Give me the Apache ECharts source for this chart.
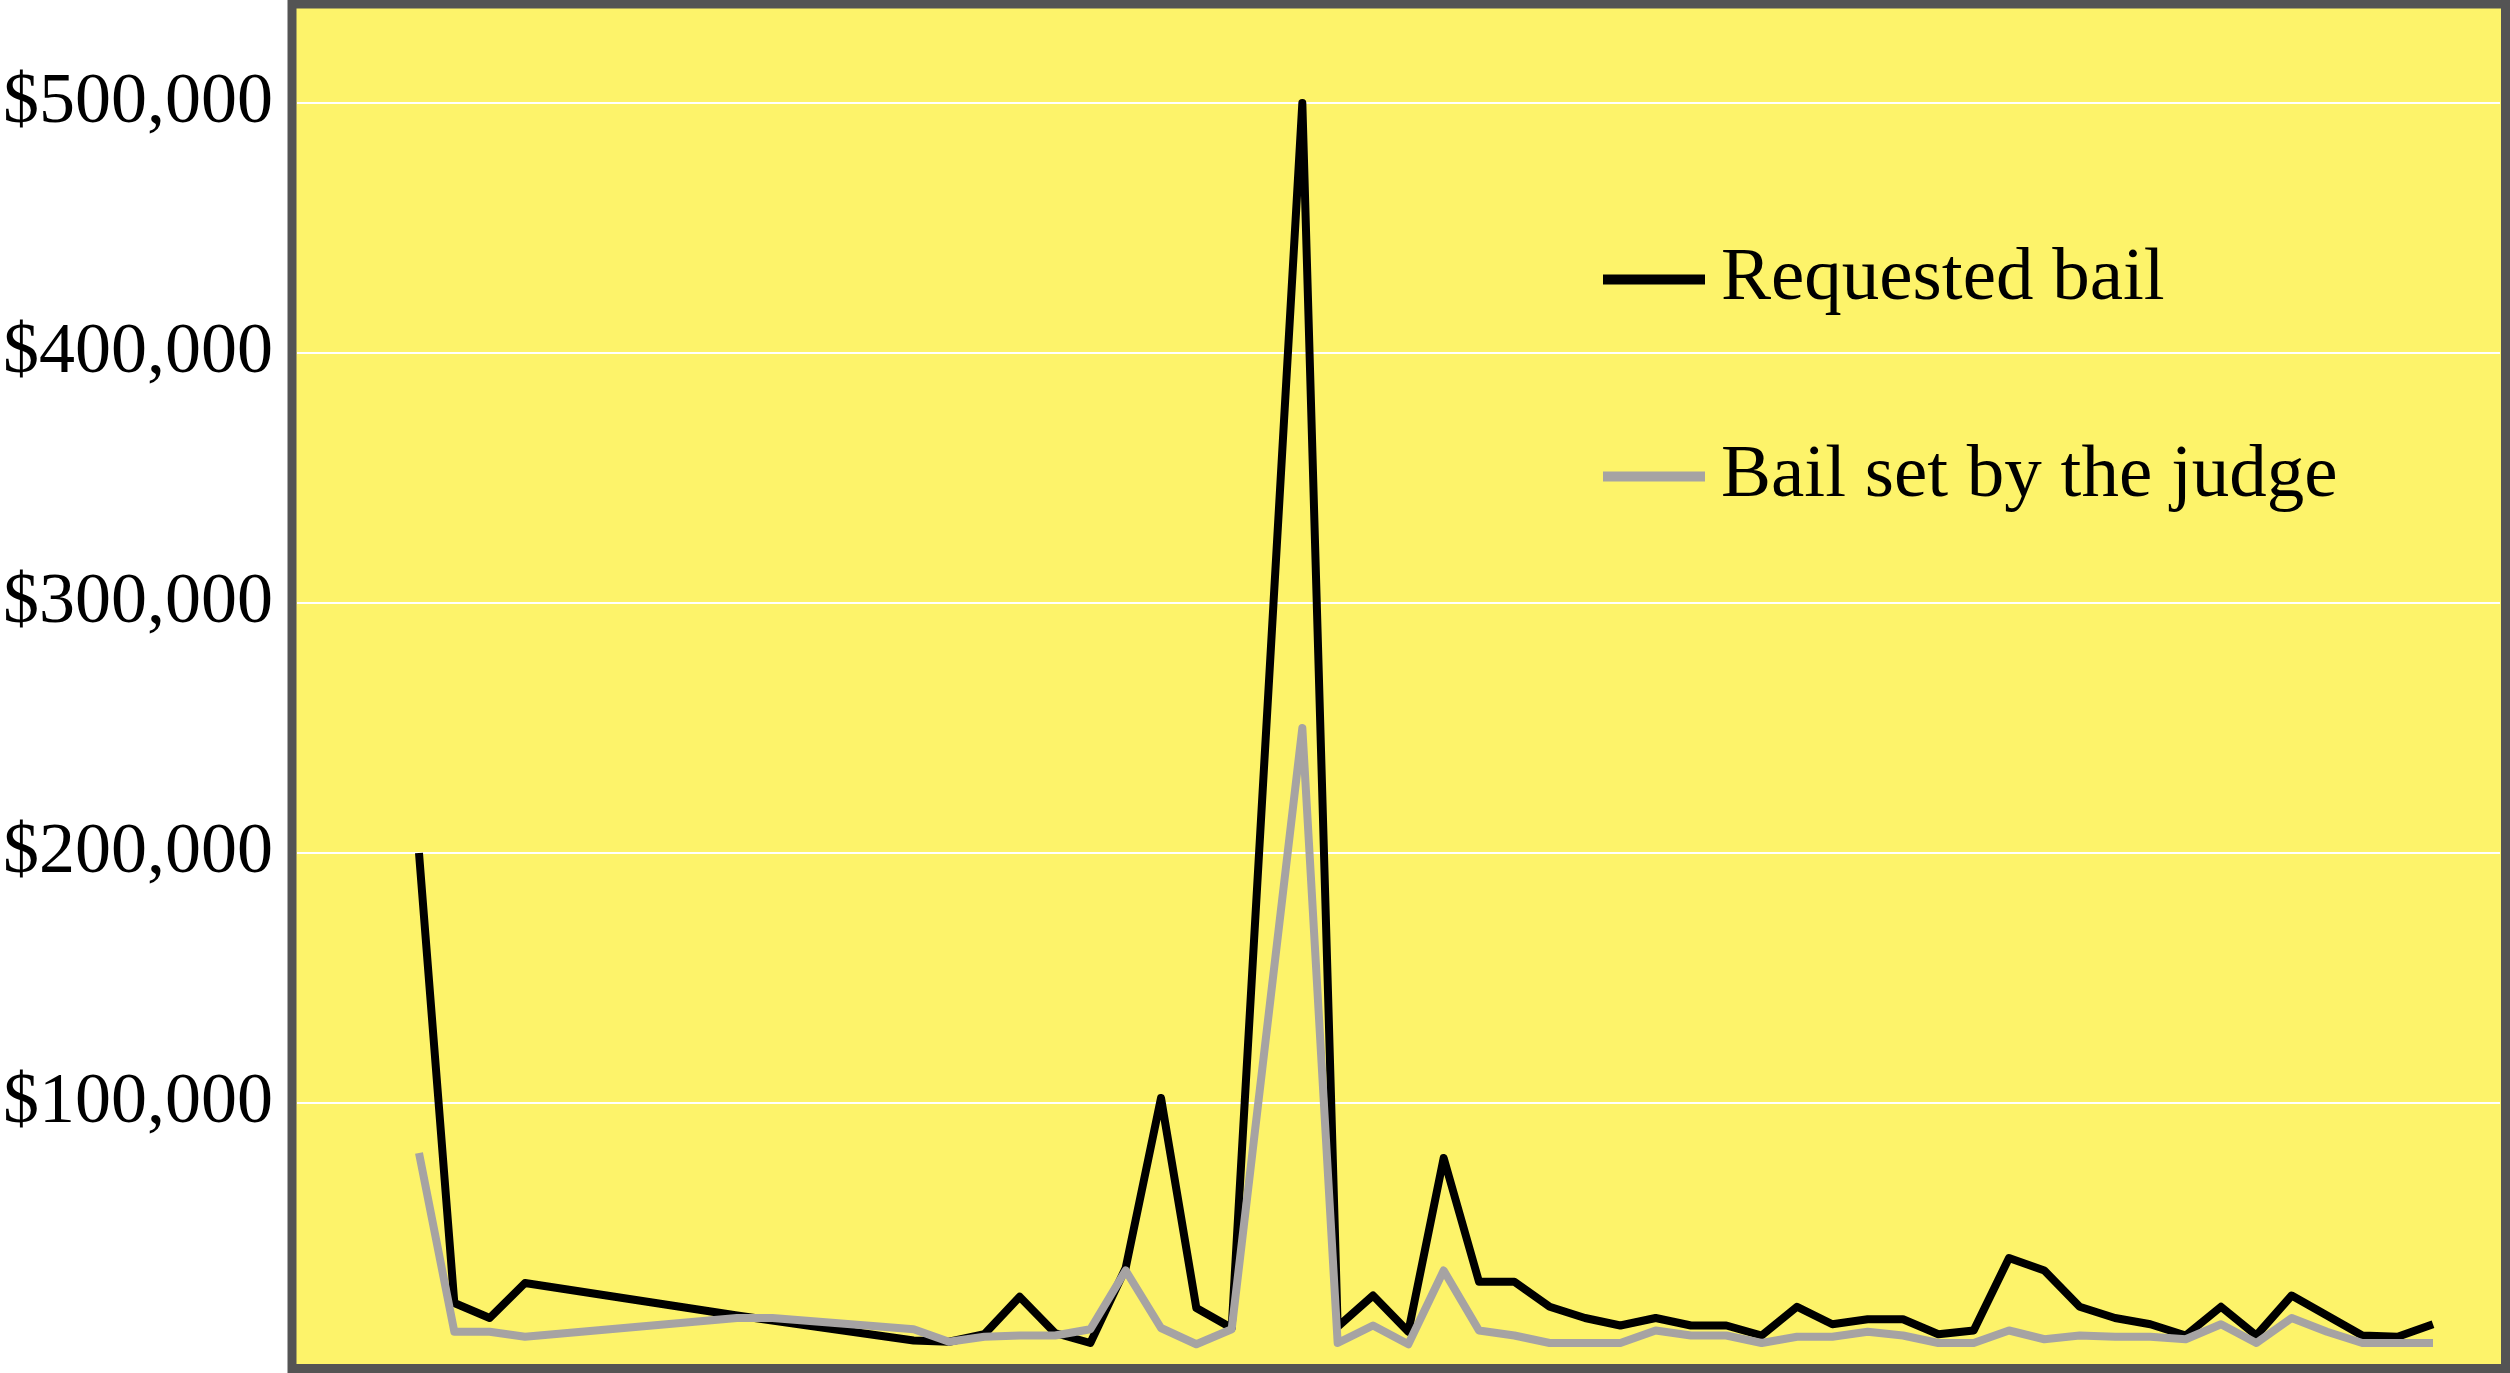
<!DOCTYPE html>
<html>
<head>
<meta charset="utf-8">
<script src="https://cdn.jsdelivr.net/npm/echarts@6/dist/echarts.min.js"></script>
<style>
  html, body { margin: 0; padding: 0; background: #fff; }
  #bail-chart { width: 2510px; height: 1373px; }
</style>
</head>
<body>
<div id="bail-chart"></div>
<script>
// one entry per case, left to right (no x labels in the original)
var cases = ['1', '2', '3', '4', '5', '6', '7', '8', '9', '10',
    '11', '12', '13', '14', '15', '16', '17', '18', '19', '20',
    '21', '22', '23', '24', '25', '26', '27', '28', '29', '30',
    '31', '32', '33', '34', '35', '36', '37', '38', '39', '40',
    '41', '42', '43', '44', '45', '46', '47', '48', '49', '50',
    '51', '52', '53', '54', '55', '56', '57', '58'];

var requestedBail = [200000, 20000, 14000, 28000, null, null, null, null, null, 15000,
    null, null, null, null, 5000, 4500, 7500, 22500, 8000, 4000,
    34000, 102000, 18000, 10000, null, 500000, 10500, 23000, 8500, 78000,
    28500, 28500, 18500, 14000, 11000, 14000, 11000, 11000, 7000, 18500,
    11500, 13500, 13500, 7500, 9000, 38000, 33000, 18500, 14000, 11500,
    7000, 18500, 7000, 23000, 15000, 7000, 6500, 11500];

var judgeBail = [80000, 8500, 8500, 6500, null, null, null, null, null, 14000,
    14000, null, null, null, 9500, 4500, 6500, 7000, 7000, 9500,
    33000, 10000, 3500, 9500, null, 250000, 4000, 11000, 3500, 33000,
    9000, 7000, 4000, 4000, 4000, 9000, 7000, 7000, 4000, 6500,
    6500, 8500, 7000, 4000, 4000, 9000, 5500, 7000, 6500, 6500,
    5500, 11500, 4000, 14000, 8500, 4000, 4000, 4000];

var yMax = 538000;
var yStep = 100000;

function chartBail() {
    "use strict";
    var myChart = echarts.init(document.getElementById('bail-chart'));

    var serif = '"Liberation Serif", "DejaVu Serif", serif';

    var option = {
        animation: false,
        backgroundColor: '#ffffff',
        // yellow box with the dark frame
        graphic: [
            {
                type: 'rect',
                z: -10,
                shape: { x: 288, y: 0, width: 2222, height: 1373 },
                style: { fill: '#fdf36a' }
            },
            {
                type: 'rect',
                z: 100,
                shape: { x: 292, y: 4, width: 2213.5, height: 1364.5 },
                style: { fill: 'transparent', stroke: '#545454', lineWidth: 9 }
            }
        ],
        // grid 0 = whole box (gridlines + labels), grid 1 = where the points sit
        grid: [
            { left: 296, right: 10, top: 8, bottom: 20 },
            { left: 419, right: 77, top: 8, bottom: 20 }
        ],
        legend: {
            orient: 'vertical',
            left: 1603,
            top: 242,
            padding: 0,
            itemGap: 122,
            icon: 'rect',
            itemWidth: 102,
            itemHeight: 10,
            textStyle: {
                fontFamily: serif,
                fontSize: 75,
                color: '#000',
                padding: [0, 0, 0, 11]
            },
            data: ['Requested bail', 'Bail set by the judge']
        },
        xAxis: [
            { gridIndex: 0, type: 'value', min: 0, max: 1, show: false },
            { gridIndex: 1, type: 'category', data: cases, boundaryGap: false, show: false }
        ],
        yAxis: [
            {
                gridIndex: 0,
                type: 'value',
                min: 0,
                max: yMax,
                interval: yStep,
                axisLine: { show: false },
                axisTick: { show: false },
                axisLabel: {
                    margin: 24,
                    fontFamily: serif,
                    fontSize: 72,
                    color: '#000',
                    formatter: function (v) {
                        if (v === 0 || v % yStep !== 0) return '';
                        return '$' + v.toLocaleString('en-US');
                    }
                },
                splitLine: {
                    show: true,
                    showMinLine: false,
                    showMaxLine: false,
                    lineStyle: { color: '#ffffff', width: 2 }
                }
            },
            { gridIndex: 1, type: 'value', min: 0, max: yMax, show: false }
        ],
        series: [
            {
                name: 'Requested bail',
                type: 'line',
                xAxisIndex: 1,
                yAxisIndex: 1,
                data: requestedBail,
                connectNulls: true,
                symbol: 'none',
                clip: false,
                color: '#000000',
                lineStyle: { color: '#000000', width: 8, join: 'round', cap: 'butt' }
            },
            {
                name: 'Bail set by the judge',
                type: 'line',
                xAxisIndex: 1,
                yAxisIndex: 1,
                data: judgeBail,
                connectNulls: true,
                symbol: 'none',
                clip: false,
                color: '#a6a3a3',
                lineStyle: { color: '#a6a3a3', width: 8, join: 'round', cap: 'butt' }
            }
        ]
    };
    myChart.setOption(option);
}
chartBail();
</script>
</body>
</html>
